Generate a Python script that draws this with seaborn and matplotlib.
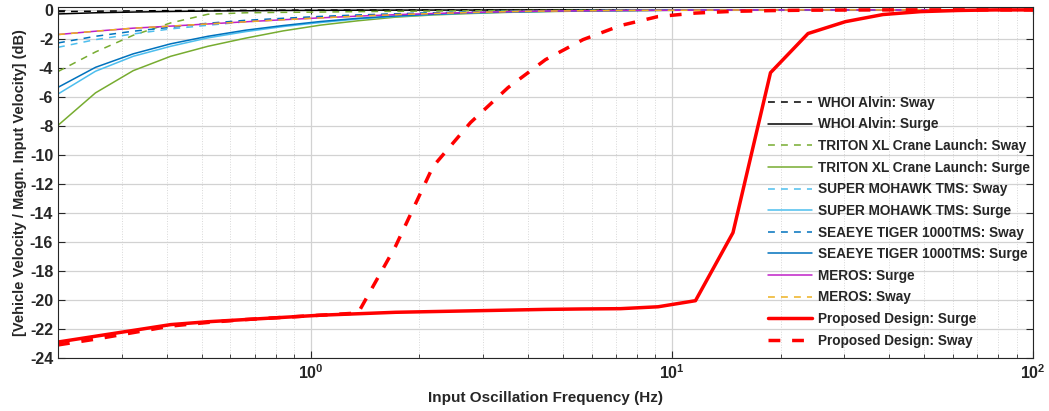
import numpy as np
import pandas as pd
import matplotlib
matplotlib.use("Agg")
import matplotlib.pyplot as plt
from matplotlib.ticker import FixedLocator, LogLocator, NullFormatter
import seaborn as sns

sns.set_style("ticks")
plt.rcParams['font.family'] = ['Liberation Sans', 'DejaVu Sans']
plt.rcParams['font.weight'] = 'bold'
plt.rcParams['mathtext.fontset'] = 'custom'
plt.rcParams['mathtext.bf'] = 'Liberation Sans:bold'
plt.rcParams['mathtext.rm'] = 'Liberation Sans:bold'

#%% data
freq = [0.2, 0.254, 0.323, 0.41, 0.52, 0.661, 0.839, 1.066, 1.354, 1.719, 2.183,
        2.772, 3.521, 4.472, 5.679, 7.212, 9.16, 11.63, 14.77, 18.76, 23.83,
        30.26, 38.43, 48.81, 61.99, 78.72, 100.0]

whoi_sway = [-0.12, -0.09, -0.07, -0.05, -0.04, -0.03, -0.02, -0.015, -0.01, -0.01,
             -0.01, 0, 0, 0, 0, 0, 0, 0, 0, 0, 0, 0, 0, 0, 0, 0, 0]
whoi_surge = [-0.28, -0.2, -0.15, -0.11, -0.08, -0.06, -0.04, -0.03, -0.02, -0.015,
              -0.01, -0.01, 0, 0, 0, 0, 0, 0, 0, 0, 0, 0, 0, 0, 0, 0, 0]
triton_sway = [-4.25, -2.9, -1.75, -0.9, -0.3, -0.2, -0.17, -0.15, -0.12, -0.1,
               -0.08, -0.06, -0.05, -0.04, -0.03, -0.02, -0.02, -0.01, -0.01, 0,
               0, 0, 0, 0, 0, 0, 0]
triton_surge = [-7.96, -5.72, -4.19, -3.2, -2.51, -1.95, -1.45, -1.05, -0.75, -0.5,
                -0.35, -0.25, -0.17, -0.12, -0.08, -0.05, -0.03, -0.02, -0.01, -0.01,
                0, 0, 0, 0, 0, 0, 0]
mohawk_sway = [-2.58, -2.05, -1.66, -1.31, -1.06, -0.82, -0.64, -0.5, -0.38, -0.29,
               -0.21, -0.15, -0.1, -0.07, -0.05, -0.03, -0.02, -0.01, -0.01, 0,
               0, 0, 0, 0, 0, 0, 0]
mohawk_surge = [-5.8, -4.23, -3.2, -2.51, -1.93, -1.5, -1.15, -0.87, -0.63, -0.45,
                -0.32, -0.22, -0.15, -0.1, -0.07, -0.05, -0.03, -0.02, -0.01, -0.01,
                0, 0, 0, 0, 0, 0, 0]
seaeye_sway = [-2.28, -1.82, -1.47, -1.2, -0.92, -0.72, -0.58, -0.45, -0.35, -0.27,
               -0.2, -0.15, -0.1, -0.07, -0.05, -0.03, -0.02, -0.01, -0.01, 0,
               0, 0, 0, 0, 0, 0, 0]
seaeye_surge = [-5.34, -3.96, -3.03, -2.34, -1.82, -1.4, -1.08, -0.8, -0.58, -0.42,
                -0.3, -0.2, -0.14, -0.1, -0.07, -0.05, -0.03, -0.02, -0.01, -0.01,
                0, 0, 0, 0, 0, 0, 0]
meros_surge = [-1.7, -1.47, -1.26, -1.12, -0.97, -0.82, -0.68, -0.55, -0.43, -0.33,
               -0.25, -0.18, -0.12, -0.08, -0.06, -0.04, -0.03, -0.02, -0.01, -0.01,
               0, 0, 0, 0, 0, 0, 0]
meros_sway = [-1.7, -1.47, -1.26, -1.12, -0.97, -0.82, -0.68, -0.55, -0.43, -0.33,
              -0.25, -0.18, -0.12, -0.08, -0.06, -0.04, -0.03, -0.02, -0.01, -0.01,
              0, 0, 0, 0, 0, 0, 0]
prop_surge = [-22.9, -22.5, -22.1, -21.7, -21.5, -21.35, -21.2, -21.05, -20.95, -20.85,
              -20.8, -20.75, -20.7, -20.65, -20.62, -20.6, -20.47, -20.05, -15.36, -4.33,
              -1.63, -0.81, -0.32, -0.12, -0.04, 0, 0]
prop_sway = [-23.1, -22.7, -22.25, -21.8, -21.55, -21.35, -21.2, -21.05, -20.9, -16.3,
             -10.8, -7.77, -5.36, -3.43, -2.05, -1.08, -0.46, -0.22, -0.1, -0.05,
             -0.02, -0.01, 0, 0, 0, 0, 0]

#%% series styling
thin_dash = (0, (4.5, 4))
series = [
    ("WHOI Alvin: Sway", whoi_sway, "#000000", thin_dash, 1.1),
    ("WHOI Alvin: Surge", whoi_surge, "#000000", "-", 1.1),
    ("TRITON XL Crane Launch: Sway", triton_sway, "#77AC30", thin_dash, 1.1),
    ("TRITON XL Crane Launch: Surge", triton_surge, "#77AC30", "-", 1.1),
    ("SUPER MOHAWK TMS: Sway", mohawk_sway, "#4DBEEE", thin_dash, 1.1),
    ("SUPER MOHAWK TMS: Surge", mohawk_surge, "#4DBEEE", "-", 1.1),
    ("SEAEYE TIGER 1000TMS: Sway", seaeye_sway, "#0072BD", thin_dash, 1.1),
    ("SEAEYE TIGER 1000TMS: Surge", seaeye_surge, "#0072BD", "-", 1.1),
    ("MEROS: Surge", meros_surge, "#C020C8", "-", 1.1),
    ("MEROS: Sway", meros_sway, "#EDB120", thin_dash, 1.1),
    ("Proposed Design: Surge", prop_surge, "#FF0000", "-", 2.5),
    ("Proposed Design: Sway", prop_sway, "#FF0000", (0, (3.4, 3.4)), 2.5),
]

#%%
fig, ax = plt.subplots(figsize=(10.49, 4.11), dpi=100)
fig.subplots_adjust(left=0.0553, right=0.9848, top=0.983, bottom=0.129)

for name, vals, col, ls, lw in series:
    sns.lineplot(x=freq, y=vals, color=col, linestyle=ls, linewidth=lw,
                 label=name, ax=ax, sort=False)

ax.set_xscale('log')
ax.set_xlim(0.2, 100)
ax.set_ylim(-24, 0.2)
ax.yaxis.set_major_locator(FixedLocator(np.arange(-24, 1, 2)))
ax.set_yticklabels([str(v) for v in range(-24, 1, 2)])
ax.set_xticks([1, 10, 100])
ax.set_xticklabels([r'$\mathbf{10^{0}}$', r'$\mathbf{10^{1}}$', r'$\mathbf{10^{2}}$'])
ax.xaxis.set_minor_locator(LogLocator(base=10, subs=np.arange(2, 10)))
ax.xaxis.set_minor_formatter(NullFormatter())

ax.grid(True, which='major', color='#d2d2d2', linewidth=0.9, linestyle='-')
ax.grid(True, which='minor', axis='x', color='#d8d8d8', linewidth=0.7, linestyle=':')
ax.set_axisbelow(True)

ax.tick_params(which='both', direction='in', top=True, right=True, labelsize=11.5,
               colors='#262626')
ax.tick_params(which='major', length=5)
ax.tick_params(which='minor', length=3)
for sp in ax.spines.values():
    sp.set_color('#262626')
    sp.set_linewidth(0.8)

ax.set_xlabel('Input Oscillation Frequency (Hz)', fontsize=11, fontweight='bold',
              labelpad=7)
ax.set_ylabel('[Vehicle Velocity / Magn. Input Velocity] (dB)', fontsize=10.5,
              fontweight='bold', labelpad=2)

leg = ax.legend(loc='lower right', bbox_to_anchor=(1.003, 0.012), frameon=False,
                prop={'size': 9.8, 'weight': 'bold'}, handlelength=3.2,
                handletextpad=0.45, labelspacing=0.56, borderaxespad=0.05)

fig.savefig('out.png', dpi=100)
